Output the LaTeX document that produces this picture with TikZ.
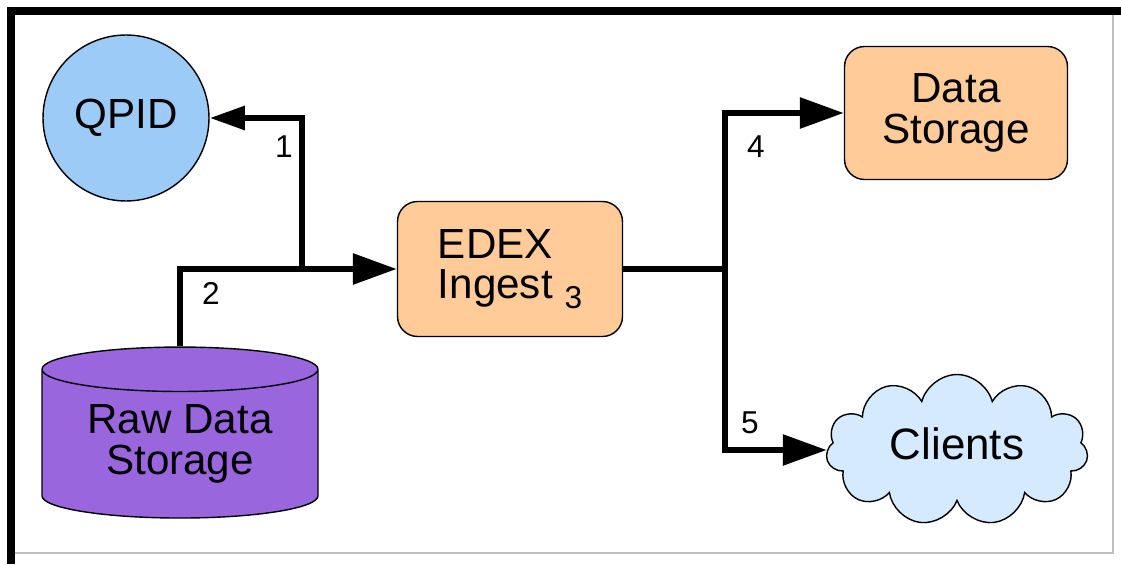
\documentclass[tikz,border=0pt]{standalone}
\usepackage{fontspec}
\setmainfont{Liberation Sans}
\usetikzlibrary{arrows.meta,shapes.geometric,shapes.symbols}

\definecolor{qpidblue}{RGB}{156,203,247}
\definecolor{rawpurple}{RGB}{153,102,222}
\definecolor{boxorange}{RGB}{255,204,153}
\definecolor{cloudblue}{RGB}{214,234,255}

\begin{document}
\begin{tikzpicture}[x=0.02cm, y=-0.02cm,
  unit/.style={draw, line width=0.8pt, font=\fontsize{24}{23}\selectfont, align=center, inner sep=0pt},
  flow/.style={line width=3.5pt, -{Triangle[length=25pt,width=17pt]}},
  num/.style={font=\fontsize{18}{18}\selectfont, inner sep=0pt}]

\useasboundingbox (0,0) rectangle (1121,564);
% marco
\draw[line width=4.4pt] (11,564) -- (11,11) -- (1121,11);
\draw[black!25, line width=0.6pt] (15,553) -- (1113,553) -- (1113,15);

\path [every node/.style={unit}]
  node[circle, fill=qpidblue, minimum size=3.32cm] (qpid) at (126,118) {QPID}
  node[cylinder, shape border rotate=90, aspect=0.24, fill=rawpurple,
       minimum width=5.52cm, minimum height=3.42cm] (raw) at (180,444) {Raw Data\\Storage}
  node[rounded corners=0.4cm, fill=boxorange, minimum width=4.5cm, minimum height=2.7cm,
       align=left] (edex) at (510,269) {EDEX\\Ingest {\fontsize{18}{18}\selectfont\raisebox{-0.2cm}{3}}}
  node[rounded corners=0.4cm, fill=boxorange, minimum width=4.46cm, minimum height=2.66cm] (store) at (956,113) {Data\\Storage}
  node[cloud, cloud puffs=11, aspect=1.7, fill=cloudblue, minimum width=5.24cm, minimum height=3.02cm,
       font=\fontsize{25}{25}\selectfont] (clients) at (957,450) {\raisebox{0.25cm}{Clients}};

\coordinate (split1) at (302,269);
\coordinate (split2) at (725,269);

\begin{scope}[flow]
	% entrada
	\draw (raw.north) |- (edex.west);
	\draw[-{Triangle[length=20pt,width=13pt]}] (split1) |- (qpid.east);
	% salida
	\draw[-] (edex.east) -- (split2);
	\draw (split2) |- (store.west);
	\draw (split2) |- (clients.west);
\end{scope}

\path [every node/.style={num}]
  node (lbl1) at (284,147) {1}
  node (lbl2) at (211,293) {2}
  node (lbl4) at (756,147) {4}
  node (lbl5) at (750,423) {5};

\end{tikzpicture}
\end{document}
